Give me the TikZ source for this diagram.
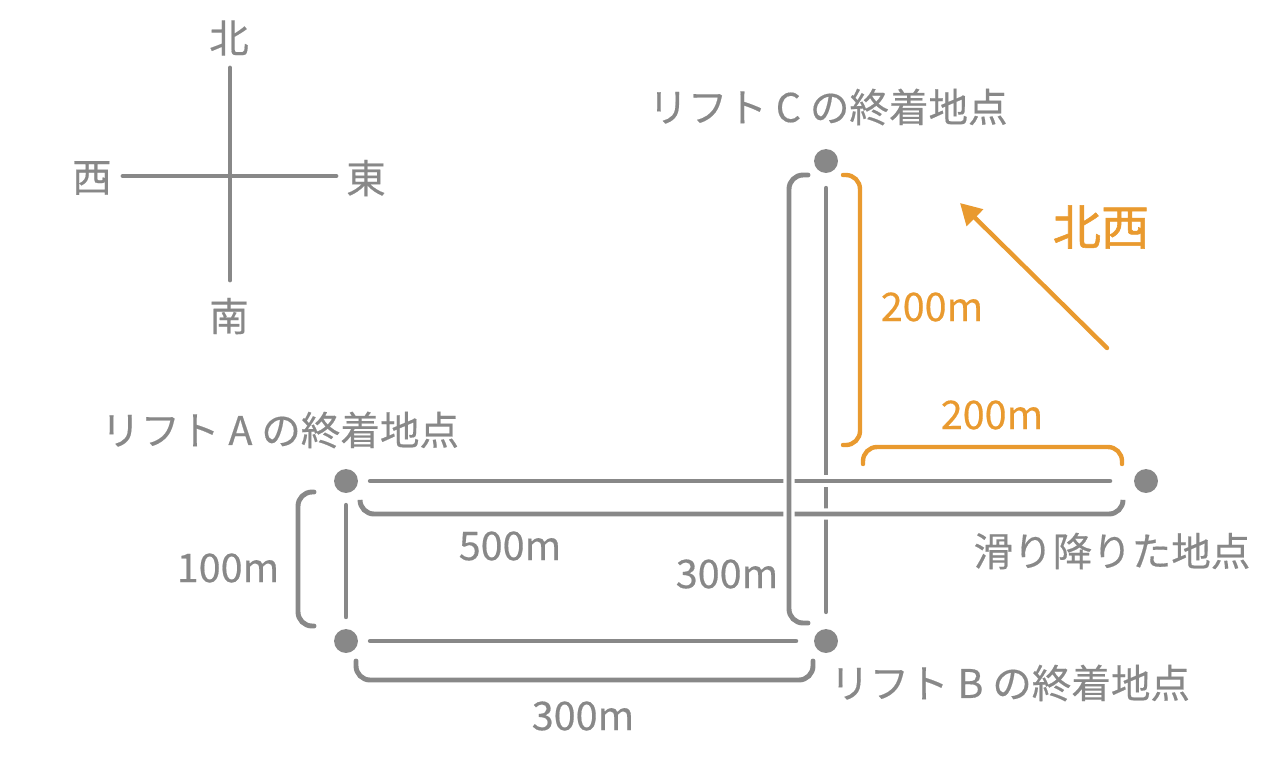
\documentclass[tikz,border=0pt]{standalone}
\usepackage{fontspec}
\setmainfont{Noto Sans CJK JP}
\usetikzlibrary{arrows.meta}
\definecolor{lgray}{HTML}{888888}
\definecolor{lorange}{HTML}{E99A2F}
\tikzset{
	line/.style={lgray, line width=2.8pt, line cap=round},
	oline/.style={lorange, line width=2.5pt, line cap=round},
	cased/.style={preaction={draw=white, line width=6.5pt, line cap=butt}},
	dot/.style={circle, fill=lgray, inner sep=0pt, minimum size=13.6pt, outer sep=7pt},
	lbl/.style={text=lgray, font=\fontsize{22.5}{26}\selectfont\addfontfeature{FakeBold=0.4}, inner sep=0pt},
	olbl/.style={text=lorange, font=\fontsize{22.5}{26}\selectfont\addfontfeature{FakeBold=0.4}, inner sep=0pt},
}
\begin{document}
\begin{tikzpicture}[x=0.02cm, y=-0.02cm, rounded corners=8pt]
		\useasboundingbox (0,0) rectangle (1274,762);
		
		% Compass
		\node[lbl] (north) at (229,38) {北};
		\node[lbl] (south) at (229,316) {南};
		\node[lbl] (west) at (92,178) {西};
		\node[lbl] (east) at (366,178) {東};
		\coordinate (cN) at (230,68);
		\coordinate (cS) at (230,280);
		\coordinate (cW) at (123,176);
		\coordinate (cE) at (336,176);
		\draw[line] (cN) -- (cS);
		\draw[line] (cW) -- (cE);
		
		% Points
		\node[dot] (A) at (346,481) {};
		\node[dot] (B) at (346,641) {};
		\node[dot] (LB) at (826,641) {};
		\node[dot] (C) at (826,161) {};
		\node[dot] (D) at (1146,481) {};
		
		% Routes
		\draw[line, shorten <=1.7pt, shorten >=2.9pt] (C) -- (LB);
		\draw[line, cased, shorten >=6.8pt] (A) -- (D);
		\draw[line] (A) -- (B);
		\draw[line, shorten >=3.4pt] (B) -- (LB);
		
		% Brackets
		\draw[line, cased] (360,500) -- (360,514) -- (1123,514) -- (1123,500);
		\draw[line, cased] (808,175) -- (789,175) -- (789,623) -- (808,623);
		\draw[line] (314,492) -- (298,492) -- (298,626) -- (314,626);
		\draw[line] (356,661) -- (356,680) -- (813,680) -- (813,661);
		\draw[oline] (843,175) -- (860,175) -- (860,445) -- (843,445);
		\draw[oline] (863,464) -- (863,447) -- (1122,447) -- (1122,464);
		
		% Direction
		\coordinate (nwtail) at (1107,348);
		\coordinate (nwhead) at (960,203);
		\draw[oline, -{Triangle[length=12pt, width=13pt]}] (nwtail) -- (nwhead);
		\node[text=lorange, font=\fontsize{27.5}{32}\selectfont\addfontfeature{FakeBold=1.2}, inner sep=0pt] (nwlbl) at (1101,227) {北西};
		
		% Labels
		\node[lbl] (labA) at (280,430) {リフト A の終着地点};
		\node[lbl] (labB) at (1010,683) {リフト B の終着地点};
		\node[lbl] (labC) at (828,107) {リフト C の終着地点};
		\node[lbl] (labD) at (1112,551) {滑り降りた地点};
		\node[lbl] (lenAD) at (510,546) {500m};
		\node[lbl] (lenCB) at (727,574) {300m};
		\node[lbl] (lenAB) at (228,568) {100m};
		\node[lbl] (lenBB) at (583,716) {300m};
		\node[olbl] (lenCV) at (932,307) {200m};
		\node[olbl] (lenDH) at (992,415) {200m};
	\end{tikzpicture}
\end{document}
